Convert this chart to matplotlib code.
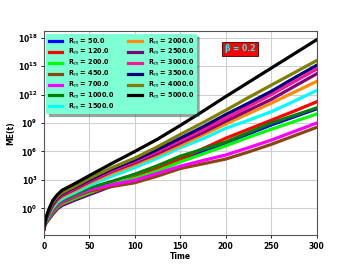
import numpy as np
from matplotlib import pyplot as plt

# sample times
t = [0, 1, 3, 6, 10, 15, 20, 35, 50, 75, 100, 125, 150, 175, 200, 225, 250, 275, 300]

rm_values = [50.0, 120.0, 200.0, 450.0, 700.0, 1000.0, 1500.0,
             2000.0, 2500.0, 3000.0, 3500.0, 4000.0, 5000.0]
colors = ['blue', 'red', 'lime', 'saddlebrown', 'magenta', 'green', 'cyan',
          'darkorange', 'purple', 'deeppink', 'navy', 'olive', 'black']

# log10 of ME(t) for each Rm
log_me_50 = [-2.2, -1.85, -1.5, -1.1, -0.6, -0.05, 0.3, 0.9, 1.45, 2.35, 3.15, 4.05, 5.0, 5.95, 6.9, 7.85, 8.8, 9.65, 10.5]
log_me_120 = [-2.2, -1.83, -1.45, -1.0, -0.5, 0.05, 0.4, 1.0, 1.55, 2.4, 3.25, 4.2, 5.2, 6.3, 7.4, 8.35, 9.3, 10.25, 11.25]
log_me_200 = [-2.2, -1.82, -1.4, -0.95, -0.4, 0.15, 0.5, 1.1, 1.65, 2.5, 3.15, 3.95, 4.9, 5.75, 6.6, 7.5, 8.35, 9.15, 9.96]
log_me_450 = [-2.2, -1.8, -1.35, -0.85, -0.3, 0.25, 0.6, 1.25, 1.8, 2.3, 2.7, 3.4, 4.2, 4.7, 5.2, 5.95, 6.75, 7.65, 8.55]
log_me_700 = [-2.2, -1.78, -1.3, -0.8, -0.2, 0.35, 0.7, 1.35, 1.95, 2.5, 2.95, 3.7, 4.45, 5.05, 5.63, 6.4, 7.2, 8.1, 9.0]
log_me_1000 = [-2.2, -1.76, -1.25, -0.7, -0.1, 0.5, 0.85, 1.5, 2.15, 2.85, 3.6, 4.5, 5.5, 6.25, 7.0, 8.0, 9.0, 9.8, 10.6]
log_me_1500 = [-2.2, -1.74, -1.2, -0.6, 0.05, 0.65, 1.0, 1.7, 2.4, 3.4, 4.3, 5.3, 6.4, 7.35, 8.45, 9.3, 10.2, 11.3, 12.45]
log_me_2000 = [-2.2, -1.72, -1.1, -0.5, 0.2, 0.85, 1.2, 1.9, 2.65, 3.7, 4.6, 5.6, 6.65, 7.75, 8.9, 10.0, 11.1, 12.25, 13.4]
log_me_2500 = [-2.2, -1.7, -1.05, -0.4, 0.35, 0.95, 1.35, 2.05, 2.8, 3.9, 4.8, 5.8, 6.9, 8.0, 9.2, 10.35, 11.5, 12.85, 14.2]
log_me_3000 = [-2.2, -1.68, -1.0, -0.3, 0.45, 1.05, 1.45, 2.15, 2.9, 4.0, 4.95, 6.0, 7.15, 8.3, 9.5, 10.75, 12.0, 13.35, 14.7]
log_me_3500 = [-2.2, -1.66, -0.95, -0.25, 0.55, 1.15, 1.55, 2.25, 3.0, 4.15, 5.1, 6.2, 7.4, 8.6, 9.9, 11.1, 12.35, 13.75, 15.1]
log_me_4000 = [-2.2, -1.64, -0.9, -0.15, 0.65, 1.25, 1.65, 2.35, 3.15, 4.3, 5.3, 6.5, 7.8, 9.05, 10.35, 11.7, 13.0, 14.3, 15.6]
log_me_5000 = [-2.2, -1.6, -0.8, 0.0, 0.85, 1.45, 1.9, 2.65, 3.45, 4.75, 6.0, 7.3, 8.75, 10.25, 11.8, 13.3, 14.8, 16.3, 17.8]

series = [log_me_50, log_me_120, log_me_200, log_me_450, log_me_700, log_me_1000, log_me_1500,
          log_me_2000, log_me_2500, log_me_3000, log_me_3500, log_me_4000, log_me_5000]

fig = plt.figure(figsize=(3.52, 2.64), dpi=100)
ax = fig.add_axes([0.1244, 0.108, 0.7753, 0.7727])

for rm, col, vals in zip(rm_values, colors, series):
    ax.semilogy(t, 10.0 ** np.array(vals), color=col, lw=2.3, label=f'R$_m$ = {rm}')

ax.set_xlim(0, 300)
ax.set_ylim(10 ** -2.87, 10 ** 18.67)
ax.set_yticks([10.0 ** k for k in range(0, 19, 3)])
ax.minorticks_off()
ax.grid(color='#d0d0d0', lw=0.8)
for sp in ax.spines.values():
    sp.set_color('#555555')
ax.tick_params(labelsize=5.5, length=2.5, width=0.6, pad=2)
for lab in ax.get_xticklabels() + ax.get_yticklabels():
    lab.set_fontweight('bold')

ax.set_xlabel('Time', fontsize=5.5, fontweight='bold', labelpad=1)
ax.set_ylabel('ME(t)', fontsize=5.5, fontweight='bold', labelpad=2)

leg = ax.legend(loc='upper left', ncol=2, facecolor='aquamarine',
                framealpha=1, shadow=True, handlelength=2.1, columnspacing=2.1,
                labelspacing=0.1, borderaxespad=0.35, handletextpad=0.9,
                prop={'weight': 'bold', 'size': 4.7})
leg.get_frame().set_linewidth(0)

ax.text(0.72, 0.915, 'β = 0.2', transform=ax.transAxes, ha='center', va='center',
        color='cyan', fontsize=5.5, fontweight='bold',
        bbox=dict(boxstyle='square,pad=0.35', facecolor='red', edgecolor='#400000', lw=0.6))

fig.savefig('out.png', dpi=100)
